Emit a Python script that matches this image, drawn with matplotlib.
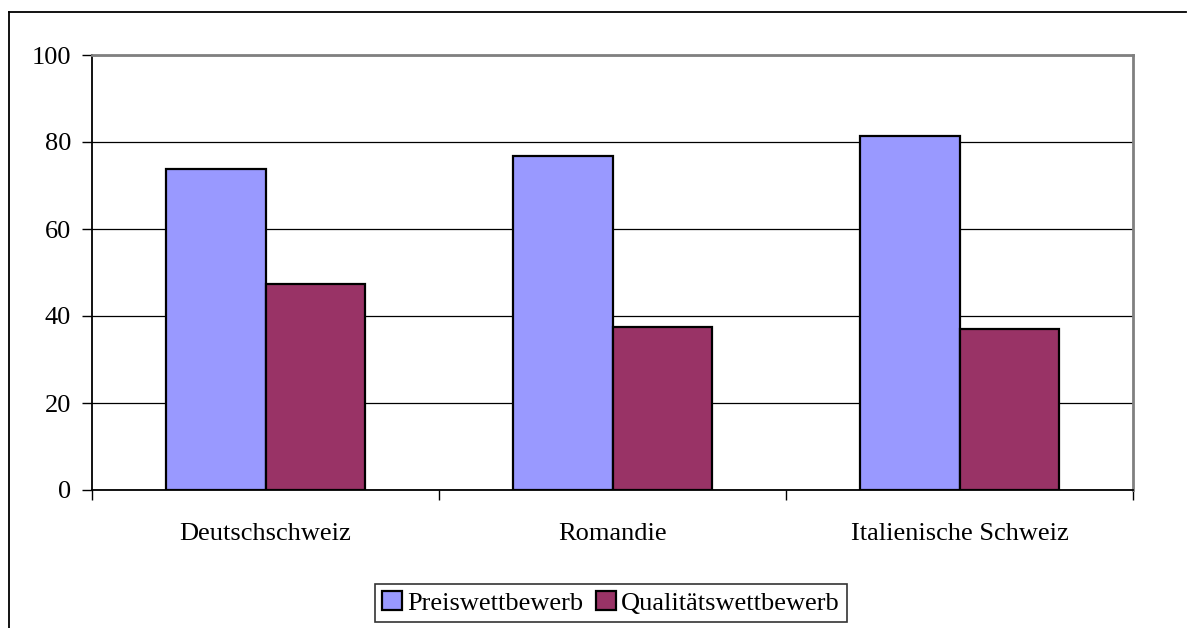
import numpy as np
import matplotlib.pyplot as plt
from matplotlib.lines import Line2D

regions = ["Deutschschweiz", "Romandie", "Italienische Schweiz"]
preis = [73.8, 76.8, 81.4]
qualitaet = [47.4, 37.5, 37.0]
series_names = ["Preiswettbewerb", "Qualitätswettbewerb"]
colors = ["#9999FF", "#993366"]

plt.rcParams['font.family'] = ['Liberation Serif', 'DejaVu Serif']

fig = plt.figure(figsize=(11.87, 6.28), dpi=100)
ax = fig.add_axes([92 / 1187, 1 - 490 / 628, (1133 - 92) / 1187, (490 - 55) / 628])

x = np.arange(len(regions))
w = 0.288
ax.bar(x - w / 2, preis, w, color=colors[0], edgecolor="black", linewidth=1.6,
       label=series_names[0], zorder=3)
ax.bar(x + w / 2, qualitaet, w, color=colors[1], edgecolor="black", linewidth=1.6,
       label=series_names[1], zorder=3)

ax.set_xlim(-0.5, len(regions) - 0.5)
ax.set_ylim(0, 100)
ax.set_yticks(np.arange(0, 101, 20))
ax.yaxis.grid(True, color="black", linewidth=0.9, zorder=0)

# category labels centred, tick marks on the category boundaries
ax.set_xticks(x)
ax.set_xticklabels(regions, fontsize=19)
ax.tick_params(axis="x", length=0, pad=24)
ax.set_xticks(np.arange(-0.5, len(regions)), minor=True)
ax.tick_params(axis="x", which="minor", length=7, width=1, color="black")
ax.tick_params(axis="y", labelsize=19, length=7, width=1, pad=8)

for side in ("top", "right"):
    ax.spines[side].set_color("#808080")
    ax.spines[side].set_linewidth(2)
for side in ("left", "bottom"):
    ax.spines[side].set_color("black")
    ax.spines[side].set_linewidth(1.3)

leg = ax.legend(loc="center", bbox_to_anchor=(611 / 1187, 1 - 603 / 628),
                bbox_transform=fig.transFigure, ncol=2, fontsize=19,
                frameon=True, fancybox=False, edgecolor="black",
                handlelength=0.75, handleheight=0.75, handletextpad=0.2,
                columnspacing=0.5, borderpad=0.25, borderaxespad=0)
leg.get_frame().set_linewidth(1.2)
for h in leg.legend_handles:
    h.set_linewidth(1.6)

# outer chart border
fig.add_artist(Line2D([9 / 1187, 9 / 1187], [-0.01, 1 - 12 / 628],
                      transform=fig.transFigure, color="black", linewidth=1.3))
fig.add_artist(Line2D([9 / 1187, 1186 / 1187], [1 - 12 / 628, 1 - 12 / 628],
                      transform=fig.transFigure, color="black", linewidth=1.3))

fig.savefig("out.png", dpi=100)
